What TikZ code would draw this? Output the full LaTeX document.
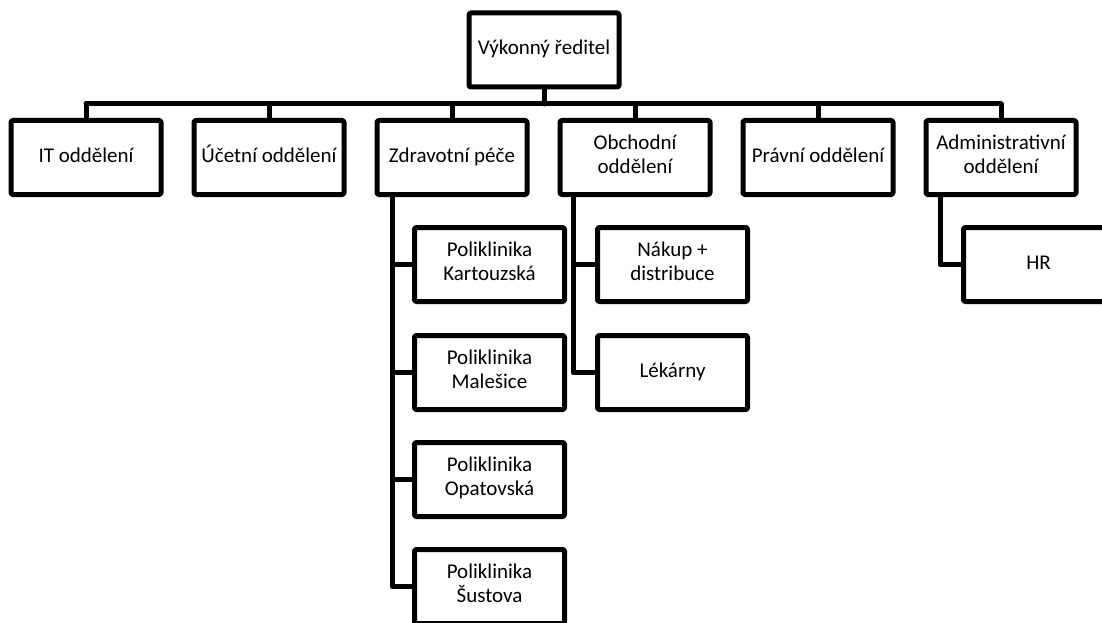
\documentclass[tikz,border=0pt]{standalone}
\usepackage{fontspec}
\setmainfont{Carlito}
\begin{document}
\begin{tikzpicture}[x=1pt,y=-1pt,
  orgbox/.style={draw=black, line width=5pt, line join=round, fill=white,
    minimum width=150pt, minimum height=74pt, inner sep=2pt, align=center,
    font=\fontsize{21}{24}\selectfont, rounded corners=1.5pt,
    execute at begin node=\strut, execute at end node=\strut},
  link/.style={draw=black, line width=5pt, line join=round, line cap=round}]
\useasboundingbox (0,0) rectangle (1102,623);
\fill[white] (0,0) rectangle (1102,623);
% coordinates
\coordinate (bar) at (0,104);
\coordinate (sz) at (392,0);
\coordinate (so) at (573,0);
\coordinate (sa) at (940,0);
% connectors (drawn first)
\path[link] (86,104) -- (1001,104);
% nodes
\node[orgbox] (ceo) at (544,50) {Výkonný ředitel};
\node[orgbox] (it) at (86,157.5) {IT oddělení};
\node[orgbox] (uc) at (269,157.5) {Účetní oddělení};
\node[orgbox] (zp) at (452,157.5) {Zdravotní péče};
\node[orgbox] (ob) at (635,157.5) {Obchodní\\oddělení};
\node[orgbox] (pr) at (818,157.5) {Právní oddělení};
\node[orgbox] (ad) at (1001,157.5) {Administrativní\\oddělení};
\node[orgbox] (k1) at (489.5,264.5) {Poliklinika\\Kartouzská};
\node[orgbox] (k2) at (489.5,372.5) {Poliklinika\\Malešice};
\node[orgbox] (k3) at (489.5,479.5) {Poliklinika\\Opatovská};
\node[orgbox] (k4) at (489.5,586.5) {Poliklinika\\Šustova};
\node[orgbox] (n1) at (672.5,264.5) {Nákup +\\distribuce};
\node[orgbox] (n2) at (672.5,372.5) {Lékárny};
\node[orgbox] (hr) at (1038.5,264.5) {HR};
% stems
\draw[link] (ceo.south) -- (ceo.south |- bar);
\foreach \n in {it,uc,zp,ob,pr,ad}{
  \draw[link] (\n.north) -- (\n.north |- bar);
}
\foreach \c in {k1,k2,k3,k4}{
  \draw[link] (zp.south -| sz) |- (\c.west);
}
\foreach \c in {n1,n2}{
  \draw[link] (ob.south -| so) |- (\c.west);
}
\draw[link] (ad.south -| sa) |- (hr.west);
\end{tikzpicture}
\end{document}
